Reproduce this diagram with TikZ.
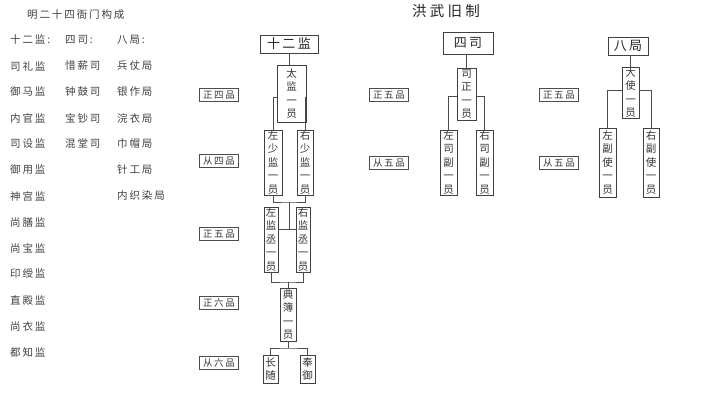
\documentclass[tikz,border=0pt]{standalone}
\usepackage{fontspec}
\setmainfont{Noto Sans CJK SC}
\newfontfamily\cjksp[LetterSpace=18]{Noto Sans CJK SC}
\newfontfamily\cjkspb[LetterSpace=22]{Noto Sans CJK SC}
\begin{document}
\begin{tikzpicture}[x=1pt,y=-1pt,
  bx/.style={draw=black!75,line width=0.6pt,inner sep=0pt,align=center,font=\fontsize{10.5}{13.5}\selectfont,text=black!80},
  top/.style={draw=black!75,line width=0.7pt,inner sep=0pt,font=\cjksp\fontsize{13}{14}\selectfont,text=black!85},
  rank/.style={draw=black!70,line width=0.5pt,inner sep=1pt,minimum width=39pt,minimum height=13pt,font=\cjksp\fontsize{9.5}{10}\selectfont,text=black!80},
  lst/.style={anchor=west,inner sep=0pt,font=\cjksp\fontsize{10.5}{11}\selectfont,text=black!75},
  ln/.style={draw=black!70,line width=0.6pt}]
\useasboundingbox (0,0) rectangle (720,405);
% left list
\node[lst] (t0) at (27,15) {明二十四衙门构成};
\node[lst] (h1) at (10,40) {十二监:};
\node[lst] (h2) at (65,40) {四司:};
\node[lst] (h3) at (117,40) {八局:};
\foreach \t [count=\i] in {司礼监,御马监,内官监,司设监,御用监,神宫监,尚膳监,尚宝监,印绶监,直殿监,尚衣监,都知监}
  \node[lst] (a\i) at (10,40+26*\i) {\t};
\foreach \t [count=\i] in {惜薪司,钟鼓司,宝钞司,混堂司}
  \node[lst] (b\i) at (65,40+26*\i) {\t};
\foreach \t [count=\i] in {兵仗局,银作局,浣衣局,巾帽局,针工局,内织染局}
  \node[lst] (c\i) at (117,40+26*\i) {\t};
% title
\node[inner sep=0pt,font=\cjkspb\fontsize{14.5}{15}\selectfont,text=black!85] (title) at (446,11) {洪武旧制};
% ranks
\node[rank] (r1) at (219,95) {正四品};
\node[rank] (r2) at (219,161) {从四品};
\node[rank] (r3) at (219,234) {正五品};
\node[rank] (r4) at (219,303) {正六品};
\node[rank] (r5) at (219,363) {从六品};
\node[rank] (r6) at (389,95) {正五品};
\node[rank] (r7) at (389,163) {从五品};
\node[rank] (r8) at (559,95) {正五品};
\node[rank] (r9) at (559,163) {从五品};
% twelve jian tree
\node[top,minimum width=58pt,minimum height=18pt] (sj) at (289,44) {十二监};
\node[bx,minimum width=29pt,minimum height=57pt] (tj) at (291.5,93.5) {太\\监\\一\\员};
\node[bx,minimum width=18pt,minimum height=65pt] (zsj) at (273,162.5) {左\\少\\监\\一\\员};
\node[bx,minimum width=16pt,minimum height=65pt] (ysj) at (305,162.5) {右\\少\\监\\一\\员};
\node[bx,minimum width=14pt,minimum height=65pt] (zjc) at (271,239.5) {左\\监\\丞\\一\\员};
\node[bx,minimum width=14pt,minimum height=65pt] (yjc) at (303,239.5) {右\\监\\丞\\一\\员};
\node[bx,minimum width=16pt,minimum height=53pt] (db) at (288,314.5) {典\\簿\\一\\员};
\node[bx,minimum width=15pt,minimum height=28pt] (cs) at (270.5,369) {长\\随};
\node[bx,minimum width=15pt,minimum height=28pt] (fy) at (307.5,369) {奉\\御};
\coordinate (m1) at (289,202);
\coordinate (m2) at (289,229);
\draw[ln] (sj.south) -- (sj.south |- tj.north);
\draw[ln] (tj.west |- 0,97) -| (zsj.north);
\draw[ln] (tj.east |- 0,97) -| (ysj.north);
\draw[ln] (zsj.south) |- (m1) -| (ysj.south);
\draw[ln] (m1) -- (m2);
\draw[ln] (zjc.east |- m2) -- (yjc.west |- m2);
\draw[ln] (zjc.south) |- (288,282) -| (yjc.south);
\draw[ln] (288,282) -- (db.north);
\draw[ln] (db.south) -- (288,348);
\draw[ln] (cs.north) |- (288,348) -| (fy.north);
% four si
\node[top,minimum width=50pt,minimum height=22pt] (ss) at (468,43) {四司};
\node[bx,minimum width=19pt,minimum height=52pt] (sz) at (466.5,94) {司\\正\\一\\员};
\node[bx,minimum width=17pt,minimum height=65pt] (zsf) at (448.5,162.5) {左\\司\\副\\一\\员};
\node[bx,minimum width=17pt,minimum height=65pt] (ysf) at (484.5,162.5) {右\\司\\副\\一\\员};
\draw[ln] (ss.south -| sz.north) -- (sz.north);
\draw[ln] (sz.west |- 0,96) -| (zsf.north);
\draw[ln] (sz.east |- 0,96) -| (ysf.north);
% ba ju
\node[top,minimum width=40pt,minimum height=18pt] (bj) at (628,46) {八局};
\node[bx,minimum width=17pt,minimum height=51pt] (ds) at (630.5,92.5) {大\\使\\一\\员};
\node[bx,minimum width=17pt,minimum height=69pt] (zfs) at (607.5,162.5) {左\\副\\使\\一\\员};
\node[bx,minimum width=16pt,minimum height=69pt] (yfs) at (651,162.5) {右\\副\\使\\一\\员};
\draw[ln] (bj.south -| ds.north) -- (ds.north);
\draw[ln] (ds.west |- 0,90) -| (zfs.north);
\draw[ln] (ds.east |- 0,90) -| (yfs.north);
\end{tikzpicture}
\end{document}
